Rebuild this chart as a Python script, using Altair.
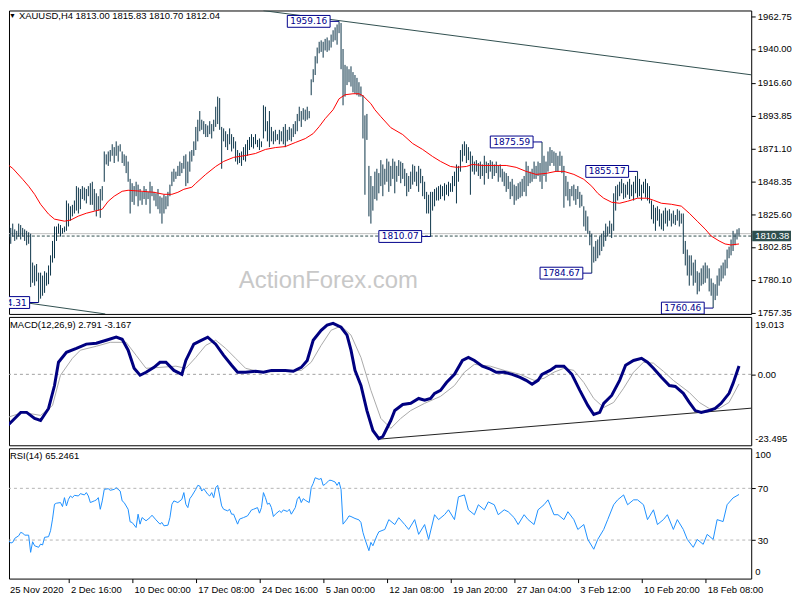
import altair as alt
import pandas as pd

# ---------------- price bars (XAUUSD H4), bar index 0..369 ----------------
highs = [1812,1815,1818,1816,1819,1815,1814,1819,1818,1816,
         1815,1814,1813,1812,1792,1790,1791,1785,1785,1783,
         1786,1785,1790,1797,1807,1817,1817,1819,1818,1816,
         1817,1835,1833,1831,1832,1835,1845,1844,1843,1845,
         1844,1843,1845,1847,1848,1843,1840,1838,1843,1845,
         1869,1867,1869,1870,1874,1872,1876,1873,1874,1869,
         1867,1866,1862,1850,1847,1845,1848,1846,1843,1841,
         1845,1843,1841,1848,1845,1841,1840,1843,1838,1837,
         1839,1838,1841,1846,1855,1857,1855,1859,1862,1861,
         1866,1867,1862,1869,1870,1876,1886,1891,1897,1891,
         1890,1888,1887,1890,1888,1891,1900,1907,1906,1886,
         1885,1883,1881,1885,1881,1879,1876,1870,1868,1869,
         1872,1874,1877,1879,1881,1879,1881,1877,1878,1876,
         1901,1900,1890,1897,1886,1883,1884,1881,1884,1883,
         1886,1888,1884,1886,1885,1888,1890,1895,1900,1897,
         1899,1898,1900,1897,1919,1926,1935,1941,1945,1946,
         1945,1947,1948,1946,1950,1953,1955,1957,1959.16,1958,
         1940,1929,1928,1926,1928,1924,1922,1920,1917,1914,
         1908,1894,1895,1859,1852,1845,1855,1857,1854,1863,
         1860,1857,1864,1862,1859,1864,1862,1859,1863,1862,
         1861,1857,1854,1852,1855,1860,1859,1855,1859,1857,
         1852,1848,1841,1839,1841,1841,1843,1844,1845,1846,
         1845,1847,1846,1848,1847,1852,1855,1860,1859,1870,
         1874,1876,1874,1872,1869,1866,1862,1863,1861,1862,
         1860,1866,1862,1861,1863,1862,1860,1862,1859,1860,
         1857,1855,1854,1852,1848,1850,1846,1845,1847,1848,
         1850,1852,1862,1859,1855,1857,1862,1859,1862,1861,
         1875.59,1866,1862,1869,1872,1870,1869,1868,1866,1869,
         1866,1859,1852,1848,1843,1845,1846,1843,1845,1841,
         1839,1831,1828,1824,1814,1812,1803,1807,1808,1810,
         1812,1814,1819,1817,1821,1819,1840,1845,1846,1848,
         1850,1847,1846,1848,1850,1846,1848,1852,1855.17,1850,
         1846,1848,1850,1847,1845,1835,1832,1830,1831,1829,
         1826,1828,1830,1828,1829,1826,1828,1825,1829,1828,
         1826,1826,1807,1801,1797,1797,1792,1794,1786,1785,
         1788,1790,1792,1790,1788,1781,1778,1777,1783,1788,
         1790,1792,1794,1801,1803,1808,1814,1812,1815,1815.83]
lows = [1802,1807,1808,1805,1810,1807,1808,1810,1808,1810,
        1807,1804,1805,1775,1778,1776,1779,1764.31,1767,1769,
        1771,1776,1777,1783,1792,1795,1807,1812,1810,1812,
        1813,1814,1817,1821,1824,1826,1828,1826,1829,1836,
        1835,1833,1838,1832,1832,1828,1824,1828,1823,1835,
        1848,1860,1859,1862,1866,1861,1866,1862,1869,1861,
        1859,1854,1848,1826,1834,1832,1838,1831,1835,1832,
        1836,1832,1836,1826,1838,1835,1831,1829,1826,1819,
        1826,1829,1831,1838,1845,1848,1850,1852,1852,1854,
        1857,1845,1847,1855,1862,1866,1870,1876,1883,1884,
        1881,1879,1879,1881,1878,1883,1886,1888,1884,1857,
        1876,1872,1870,1874,1869,1871,1862,1860,1861,1859,
        1863,1862,1866,1870,1872,1871,1874,1872,1870,1872,
        1878,1883,1876,1872,1876,1874,1876,1877,1874,1876,
        1874,1872,1876,1877,1876,1879,1881,1883,1890,1886,
        1891,1890,1891,1892,1908,1917,1922,1930,1937,1938,
        1934,1939,1938,1939,1941,1945,1946,1943,1951,1926,
        1901,1907,1915,1917,1914,1910,1909,1908,1907,1907,
        1878,1839,1877,1824,1819,1828,1836,1835,1840,1845,
        1838,1846,1848,1841,1845,1850,1840,1848,1852,1847,
        1850,1845,1838,1841,1843,1846,1848,1845,1841,1847,
        1838,1836,1826,1826,1810.07,1828,1831,1835,1835,1836,
        1838,1835,1839,1838,1841,1841,1845,1833,1848,1855,
        1862,1866,1861,1863,1839,1855,1853,1855,1852,1850,
        1852,1846,1854,1850,1855,1850,1852,1854,1848,1851,
        1848,1845,1841,1843,1836,1838,1832,1835,1836,1837,
        1838,1841,1838,1845,1847,1848,1850,1850,1852,1848,
        1843,1852,1848,1855,1859,1861,1859,1855,1855,1859,
        1854,1830,1838,1835,1831,1838,1835,1832,1836,1830,
        1831,1817,1814,1812,1804,1784.67,1792,1793,1795,1797,
        1800,1803,1807,1810,1812,1809,1814,1828,1835,1838,
        1840,1836,1837,1839,1836,1838,1835,1840,1837,1838,
        1835,1840,1837,1835,1833,1822,1819,1814,1821,1817,
        1815,1814,1819,1817,1821,1817,1819,1818,1821,1817,
        1819,1798,1790,1783,1776,1783,1776,1778,1770,1772,
        1776,1777,1778,1781,1772,1769,1760.46,1766,1769,1776,
        1779,1781,1783,1788,1795,1797,1800,1804,1808,1810.70]

# ---------------- moving average (red) ----------------
ma_idx = [0,4,9,12,15,18,22,25,30,33,37,41,45,49,52,55,59,62,69,75,
          80,84,87,90,94,96,101,106,110,115,121,126,131,136,141,146,151,155,158,161,
          165,168,171,175,178,180,184,186,189,194,200,205,210,215,219,224,227,232,235,240,
          247,252,257,262,267,272,277,281,286,291,295,298,301,305,309,313,318,323,326,330,
          335,340,344,348,352,355,359,362,365,369]
ma_val = [1861.4,1857.3,1849.7,1844.9,1839.3,1832.4,1825.6,1822.1,1820.7,1821.4,
          1824.2,1826.2,1827.6,1829.0,1834.5,1838.0,1841.4,1842.1,1841.4,1840.7,
          1839.3,1839.3,1840.7,1842.8,1844.2,1846.9,1853.1,1858.6,1862.1,1864.9,
          1866.2,1867.6,1870.4,1871.7,1872.4,1875.2,1877.9,1881.4,1886.2,1891.7,
          1897.9,1905.5,1908.3,1909.0,1909.0,1907.6,1902.1,1897.9,1893.1,1885.5,
          1880.7,1874.5,1870.4,1865.5,1862.1,1858.6,1858.0,1858.6,1860.0,1859.3,
          1859.3,1859.3,1858.0,1855.2,1853.1,1853.8,1855.2,1855.2,1853.1,1849.7,
          1844.9,1840.0,1836.6,1833.8,1833.1,1834.5,1836.6,1836.6,1835.2,1833.1,
          1832.4,1831.1,1826.2,1820.7,1815.2,1810.4,1807.0,1804.9,1804.2,1804.9]

# ---------------- MACD ----------------
macd_idx = [0,4,8,11,15,18,22,25,27,31,36,41,46,51,56,59,62,65,68,71,
            75,78,81,85,89,91,95,99,102,106,110,114,117,121,126,130,134,138,141,145,
            149,152,155,159,162,165,169,172,174,176,179,182,185,188,190,194,196,200,204,208,
            211,214,216,219,222,226,230,233,236,240,244,247,251,255,259,262,265,268,270,274,
            277,281,285,289,293,296,299,301,305,309,312,316,320,323,326,330,334,337,341,344,
            347,350,354,357,360,364,366,369]
macd_val = [-17.9,-15.3,-12.6,-12.6,-14.6,-15.3,-11.3,-3.7,4.0,7.3,
            8.6,10.0,10.3,11.3,12.3,11.6,8.0,2.0,-0.3,0.7,
            2.3,4.0,4.0,1.3,0.0,4.6,10.0,11.3,12.3,10.0,
            6.3,3.0,0.7,0.7,1.0,0.7,1.3,1.3,1.3,1.0,
            2.3,4.6,11.3,14.6,16.3,16.9,15.6,13.0,8.0,1.3,
            -3.7,-12.0,-18.6,-21.3,-20.6,-15.3,-12.0,-10.0,-9.6,-8.0,
            -8.6,-8.0,-6.3,-5.3,-2.7,0.0,4.6,5.6,4.6,2.7,
            1.7,0.7,0.7,0.0,-1.0,-2.0,-3.3,-2.0,0.0,1.3,
            2.7,2.7,0.0,-5.3,-10.3,-13.3,-12.6,-9.6,-7.0,-2.0,
            3.0,4.6,5.3,4.0,2.0,-1.0,-3.7,-4.0,-6.3,-9.3,
            -12.0,-12.6,-12.0,-11.3,-9.6,-6.3,-3.0,2.791]
sig_idx = [0,9,18,24,28,34,38,46,53,61,66,71,78,86,91,96,101,106,111,116,
           121,129,139,149,154,159,164,169,174,179,184,189,194,199,204,211,219,226,231,236,
           244,251,259,266,271,276,281,286,291,296,301,306,311,316,321,326,331,336,344,349,
           354,359,364,369]
sig_val = [-14.6,-12.6,-13.6,-10.3,-0.3,5.3,8.0,9.3,10.6,10.6,
           6.3,2.0,2.3,2.7,2.0,5.6,9.6,11.3,8.6,5.3,
           2.0,0.7,1.0,1.3,4.0,9.6,14.6,16.0,13.0,5.6,
           -5.3,-14.6,-17.9,-14.6,-12.0,-9.6,-7.3,-3.7,0.7,3.3,
           2.7,1.3,0.0,-2.0,-1.3,0.7,2.0,1.3,-2.7,-8.0,
           -11.0,-9.3,-4.6,0.7,4.0,3.7,1.0,-2.0,-6.0,-9.3,
           -11.3,-11.3,-9.3,-3.167]

# ---------------- RSI(14) ----------------
rsi_idx = [0,1,2,3,4,5,7,8,9,10,12,13,14,15,17,18,19,20,22,23,
           24,25,26,28,29,30,31,32,33,34,35,37,38,40,41,42,43,45,46,47,
           48,49,50,52,53,55,56,58,59,60,62,63,64,66,67,68,69,71,73,74,
           76,78,79,80,82,83,84,85,87,89,90,91,92,93,94,96,97,98,99,100,
           102,103,104,105,106,107,109,110,112,113,114,115,117,118,120,122,124,125,127,128,
           129,130,131,132,133,134,135,136,138,139,140,142,143,144,146,147,148,149,150,151,
           153,154,155,156,158,159,160,161,163,164,166,167,168,169,170,172,173,174,176,178,
           179,180,181,183,184,185,187,188,
           191,193,196,198,201,203,206,208,211,213,216,218,
           221,223,226,228,231,233,236,238,241,243,246,248,251,253,256,258,261,263,266,268,
           271,273,276,278,281,283,286,288,291,293,296,298,301,303,306,308,311,313,316,318,
           321,323,326,328,331,333,336,338,341,343,346,348,351,353,356,358,361,363,366,369]
rsi_val = [19.2,29.5,29.5,27.7,28.2,31.3,33.3,35.9,35.4,33.8,33.8,20.5,28.7,25.6,24.4,26.9,26.2,32.1,32.6,37.2,
           46.2,57.7,58.5,59.0,55.9,62.8,56.4,61.5,64.1,62.8,64.6,64.1,65.9,64.9,66.7,64.1,59.0,60.3,61.0,62.8,
           53.8,60.3,69.2,69.7,68.5,69.2,70.5,67.9,60.3,59.0,53.8,44.1,43.6,39.7,50.0,42.3,47.4,44.9,47.4,49.2,
           45.6,42.3,43.6,41.0,41.5,47.4,57.7,60.3,59.0,61.5,66.7,57.7,55.1,62.0,64.1,69.2,72.3,71.8,67.9,69.7,
           65.4,64.1,66.7,62.8,70.5,72.3,56.4,53.8,52.6,53.8,50.0,50.0,42.3,46.2,47.4,48.7,53.3,53.8,55.1,50.8,
           55.1,66.7,62.8,57.7,58.5,55.1,48.2,50.0,52.6,51.3,53.3,52.1,53.8,50.0,55.1,61.5,63.6,59.0,62.0,60.8,
           59.0,70.5,73.8,78.2,76.9,77.7,72.3,73.1,76.2,76.2,74.9,72.3,74.9,69.2,42.3,46.2,48.7,48.2,46.7,45.6,
           43.6,35.9,30.8,21.8,28.2,25.6,33.3,36.4,
           38.2,45.8,42.0,47.3,42.0,38.2,45.8,34.4,42.0,30.5,49.6,45.8,
           49.6,53.4,45.8,63.4,64.9,53.4,49.6,57.3,53.4,59.5,57.3,49.6,53.4,51.9,47.3,42.0,49.6,45.8,42.0,53.4,
           57.3,61.1,49.6,49.6,45.8,51.9,45.8,38.2,42.0,30.5,22.9,30.5,38.2,45.8,57.3,61.1,64.9,57.3,61.1,61.1,
           57.3,45.8,53.4,42.0,45.8,49.6,38.2,45.8,38.2,30.5,24.4,30.5,26.7,34.4,30.5,45.8,44.3,57.3,62.6,65.2461]

# ---------------- axes / labels ----------------
x_label_bars = [0,32,64,96,128,160,192,224,256,288,320,352]
x_labels = ["25 Nov 2020","2 Dec 16:00","10 Dec 00:00","17 Dec 08:00","24 Dec 16:00",
            "5 Jan 00:00","12 Jan 08:00","19 Jan 20:00","27 Jan 04:00","3 Feb 12:00",
            "10 Feb 20:00","18 Feb 08:00"]
price_ticks = [1962.75,1940.00,1916.60,1893.85,1871.10,1848.35,1825.60,1802.85,1780.10,1757.35]
annot_text = ["1959.16","1764.31","1810.07","1875.59","1855.17","1784.67","1760.46"]
annot_value = [1959.16,1764.31,1810.07,1875.59,1855.17,1784.67,1760.46]
annot_bar = [168,17,214,270,318,295,356]
header_main = "XAUUSD,H4  1813.00 1815.83 1810.70 1812.04"
header_macd = "MACD(12,26,9) 2.791 -3.167"
header_rsi = "RSI(14) 65.2461"
bid_price = 1812.04
level_price = 1810.38
main_trend_idx = [130, 375.25]
main_trend_val = [1966.6, 1922.1]
low_trend_idx = [2.25, 50.5]
low_trend_val = [1765.8, 1756.4]
macd_trend_idx = [187.5, 375.25]
macd_trend_val = [-21.5, -11.2]
macd_range = [-23.495, 19.013]

# ---------------- styling ----------------
W = 746
H1, H2, H3 = 305, 129, 131
FONT = "Liberation Sans"
FS = 9.5
BAR = "#0C3449"
NAVY = "#00008B"
SLATE = "#2F4F4F"

xsc = alt.Scale(domain=[2.125, 375.125], nice=False, zero=False)
ysc1 = alt.Scale(domain=[1756.4, 1966.7], nice=False, zero=False)
ysc2 = alt.Scale(domain=macd_range, nice=False, zero=False)
ysc3 = alt.Scale(domain=[0.2, 101.0], nice=False, zero=False)


def xq(field):
    return alt.X(field, type="quantitative", scale=xsc, axis=None)


def right_axis(values, fmt):
    return alt.Axis(orient="right", values=values, format=fmt, tickSize=4, tickColor="black",
                    labelPadding=2, labelFont=FONT, labelFontSize=FS, labelColor="black",
                    domain=False, grid=False, title=None, labelOverlap=False, labelFlush=False)


AX1 = right_axis(price_ticks, ".2f")
AX2 = right_axis([0], ".2f")
AX3 = right_axis([70, 30], "d")


def txt(s, x, y, color="black", size=FS, align="left", baseline="middle", font=FONT):
    return alt.Chart(pd.DataFrame({"t": [s]})).mark_text(
        align=align, baseline=baseline, fontSize=size, font=font, color=color
    ).encode(x=alt.value(x), y=alt.value(y), text="t:N")


def y1(field):
    return alt.Y(field, type="quantitative", scale=ysc1, axis=AX1)


# ---------------- main panel ----------------
bars_df = pd.DataFrame({"i": list(range(len(highs))), "high": highs, "low": lows})
ma_df = pd.DataFrame({"i": ma_idx, "v": ma_val})
tl_df = pd.DataFrame({"i": main_trend_idx + low_trend_idx,
                      "v": main_trend_val + low_trend_val,
                      "g": ["a", "a", "b", "b"]})
ann_df = pd.DataFrame({"t": annot_text, "v": annot_value, "bar": annot_bar})

watermark = txt("ActionForex.com", 321, 279, color="#C8C8C8", size=24,
                align="center", baseline="alphabetic")

bid_line = alt.Chart(pd.DataFrame({"v": [bid_price]})).mark_rule(
    color="#C0C0C0", strokeWidth=1).encode(y=y1("v"))
lvl_line = alt.Chart(pd.DataFrame({"v": [level_price]})).mark_rule(
    color=SLATE, strokeWidth=1, strokeDash=[3, 2]).encode(y=y1("v"))

bars = alt.Chart(bars_df).mark_rule(color=BAR, strokeWidth=1, opacity=1, strokeOpacity=1,
                                    clip=True).encode(
    x=xq("i"), y=y1("low"), y2="high:Q")

ma_line = alt.Chart(ma_df).mark_line(color="#FF0000", strokeWidth=1, clip=True).encode(
    x=xq("i"), y=y1("v"))

trend = alt.Chart(tl_df).mark_line(color=SLATE, strokeWidth=1, clip=True).encode(
    x=xq("i"), y=y1("v"), detail="g:N")

ann_base = alt.Chart(ann_df).transform_calculate(
    bx2="datum.bar - 4.5", bx1="datum.bar - 26", bxc="datum.bar - 15.25",
    yt="datum.v + 4.1", yb="datum.v - 4.1")
ann_conn = ann_base.mark_rule(color=NAVY, strokeWidth=1, clip=True).encode(
    x=xq("bx2:Q"), x2="bar:Q", y=y1("v"))
ann_box = ann_base.mark_rect(fill="white", stroke=NAVY, strokeWidth=1, clip=True).encode(
    x=xq("bx1:Q"), x2="bx2:Q", y=y1("yb"), y2="yt:Q")
ann_txt = ann_base.mark_text(color=NAVY, font="DejaVu Sans", fontSize=9, clip=True,
                             align="center", baseline="middle").encode(
    x=xq("bxc:Q"), y=y1("v"), text="t:N")

tri = txt("\u25BC", 3.5, 6, size=7, align="center")
hdr = txt(header_main, 10, 6)

tag_df = pd.DataFrame({"t": ["1810.38"], "v": [level_price]}).assign(
    yt=lambda d: d.v + 3.6, yb=lambda d: d.v - 3.6)
tag_rect = alt.Chart(tag_df).mark_rect(fill="#2F4F4F").encode(
    x=alt.value(W + 1), x2=alt.value(W + 40), y=y1("yb"), y2="yt:Q")
tag_txt = alt.Chart(tag_df).mark_text(color="white", font=FONT, fontSize=FS,
                                      align="left", baseline="middle").encode(
    x=alt.value(W + 4), y=y1("v"), text="t:N")

main = alt.layer(watermark, bid_line, lvl_line, bars, ma_line, trend,
                 ann_conn, ann_box, ann_txt, tri, hdr, tag_rect, tag_txt).properties(
    width=W, height=H1)

# ---------------- MACD panel ----------------
macd_df = pd.DataFrame({"i": macd_idx, "v": macd_val})
sig_df = pd.DataFrame({"i": sig_idx, "v": sig_val})
mtl_df = pd.DataFrame({"i": macd_trend_idx, "v": macd_trend_val})


def y2s(field):
    return alt.Y(field, type="quantitative", scale=ysc2, axis=AX2)


zero_line = alt.Chart(pd.DataFrame({"v": [0.0]})).mark_rule(
    color="#A0A0A0", strokeDash=[3, 3]).encode(y=y2s("v"))
mtl = alt.Chart(mtl_df).mark_line(color="#202020", strokeWidth=1, clip=True).encode(
    x=xq("i"), y=y2s("v"))
sig_line = alt.Chart(sig_df).mark_line(color="#A9A9A9", strokeWidth=1, clip=True).encode(
    x=xq("i"), y=y2s("v"))
macd_line = alt.Chart(macd_df).mark_line(color="#000080", strokeWidth=3, clip=True).encode(
    x=xq("i"), y=y2s("v"))

macd = alt.layer(zero_line, mtl, sig_line, macd_line,
                 txt(header_macd, 1, 8),
                 txt("19.013", W + 4, 8),
                 txt("-23.495", W + 4, H2 - 6)).properties(width=W, height=H2)

# ---------------- RSI panel ----------------
rsi_df = pd.DataFrame({"i": rsi_idx, "v": rsi_val})
label_expr = "[" + ",".join("'" + s + "'" for s in x_labels) + "][round(datum.value / 32)]"
x_axis = alt.Axis(values=x_label_bars[1:], labelExpr=label_expr, labelAlign="left", labelOffset=2,
                  tickSize=4, tickColor="black", labelPadding=2, labelFont=FONT,
                  labelFontSize=FS, labelColor="black", domain=False, grid=False,
                  title=None, labelOverlap=False, labelFlush=False)


def y3(field):
    return alt.Y(field, type="quantitative", scale=ysc3, axis=AX3)


rsi_lv = alt.Chart(pd.DataFrame({"v": [70, 30]})).mark_rule(
    color="#B4B4B4", strokeDash=[3, 3]).encode(y=y3("v"))
rsi_line = alt.Chart(rsi_df).mark_line(color="#1E90FF", strokeWidth=1, clip=True).encode(
    x=alt.X("i:Q", scale=xsc, axis=x_axis), y=y3("v"))

rsi = alt.layer(rsi_lv, rsi_line,
                txt(header_rsi, 1, 8),
                txt("100", W + 4, 7),
                txt("0", W + 4, H3 - 7),
                txt(x_labels[0], 1, H3 + 6, baseline="top")).properties(width=W, height=H3)

chart = alt.vconcat(main, macd, rsi, spacing=3, bounds="flush").properties(
    padding=0, background="white").configure_view(stroke="black", strokeWidth=1)

chart.save("out.html", embed_options={"renderer": "svg", "actions": False})
